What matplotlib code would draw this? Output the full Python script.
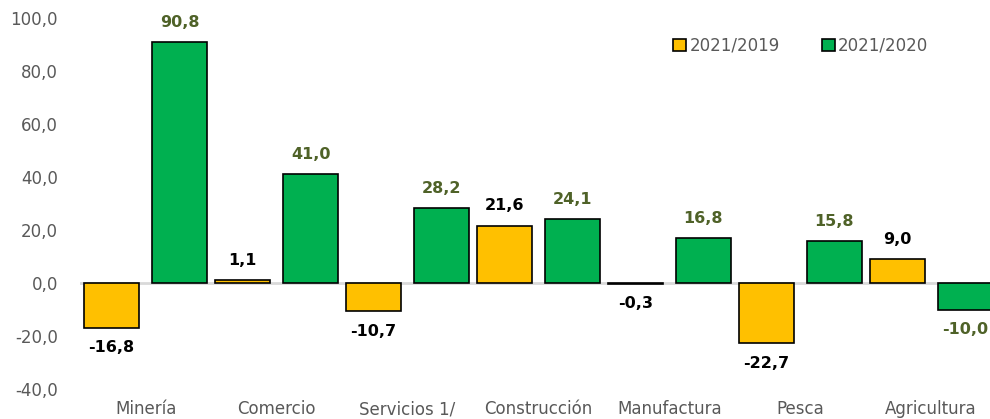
import numpy as np
import matplotlib.pyplot as plt
from matplotlib.patches import Patch

sectores = ['Minería', 'Comercio', 'Servicios 1/', 'Construcción',
            'Manufactura', 'Pesca', 'Agricultura']
var_2019 = [-16.8, 1.1, -10.7, 21.6, -0.3, -22.7, 9.0]
var_2020 = [90.8, 41.0, 28.2, 24.1, 16.8, 15.8, -10.0]

amarillo = '#FFC000'
verde = '#00B050'
gris = '#595959'


def fmt(v):
    return f'{v:.1f}'.replace('.', ',')


def grafico():
    fig = plt.figure(figsize=(9.9, 4.19), dpi=100)
    ax = fig.add_axes([0.081, 0.0716, 0.919, 0.8854])

    x = np.arange(len(sectores))
    off = 0.26
    width = 0.42

    b1 = ax.bar(x - off, var_2019, width=width, color=amarillo,
                edgecolor='black', linewidth=1.2, zorder=3)
    b2 = ax.bar(x + off, var_2020, width=width, color=verde,
                edgecolor='black', linewidth=1.2, zorder=3)

    for bars, vals, col in [(b1, var_2019, 'black'), (b2, var_2020, '#4F6228')]:
        for rect, v in zip(bars, vals):
            cx = rect.get_x() + rect.get_width() / 2
            if v >= 0:
                ax.annotate(fmt(v), (cx, v), xytext=(0, 9), textcoords='offset points',
                            ha='center', va='bottom', fontsize=11.5,
                            fontweight='bold', color=col)
            else:
                ax.annotate(fmt(v), (cx, v), xytext=(0, -9), textcoords='offset points',
                            ha='center', va='top', fontsize=11.5,
                            fontweight='bold', color=col)

    ax.axhline(0, color='#D9D9D9', linewidth=2, zorder=2)

    ax.set_ylim(-40, 100)
    ax.set_xlim(-0.5, 6.45)
    ax.set_yticks(np.arange(-40, 101, 20))
    ax.set_yticklabels([fmt(v) for v in np.arange(-40, 101, 20)])
    ax.set_xticks(x)
    ax.set_xticklabels(sectores)
    ax.tick_params(axis='both', length=0, labelsize=12, colors=gris)
    ax.tick_params(axis='y', pad=16)
    ax.tick_params(axis='x', pad=8)
    for s in ax.spines.values():
        s.set_visible(False)

    handles = [Patch(facecolor=amarillo, edgecolor='black', linewidth=1.2),
               Patch(facecolor=verde, edgecolor='black', linewidth=1.2)]
    leg = ax.legend(handles, ['2021/2019', '2021/2020'], ncol=2, frameon=False,
                    loc='upper left', bbox_to_anchor=(0.635, 0.99),
                    handlelength=0.8, handleheight=0.8, handletextpad=0.2,
                    columnspacing=2.5, fontsize=12)
    for t in leg.get_texts():
        t.set_color(gris)

    fig.savefig('out.png', dpi=100)


if __name__ == '__main__':
    grafico()
